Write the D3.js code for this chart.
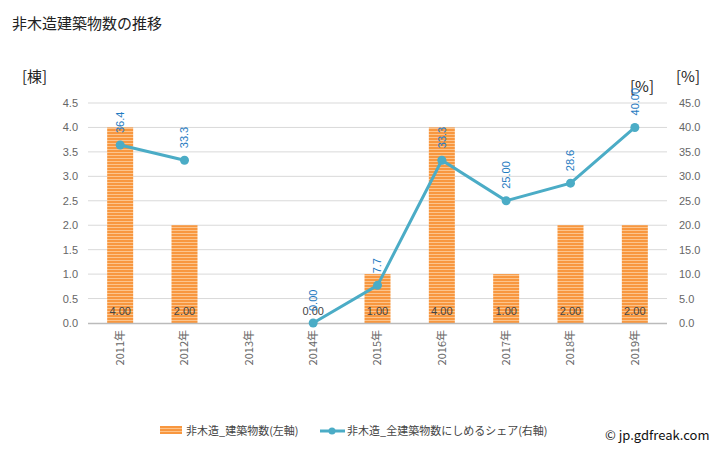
<!DOCTYPE html>
<html><head><meta charset="utf-8">
<script src="https://cdn.jsdelivr.net/npm/d3@7"></script>
<style>body{margin:0;background:#fff;}svg{display:block;font-family:"Noto Sans CJK JP","Noto Sans",sans-serif;}</style>
</head><body><svg id="c" width="728" height="450"></svg>
<script>
const categories = ["2011年","2012年","2013年","2014年","2015年","2016年","2017年","2018年","2019年"];
const barValues = [4, 2, null, 0, 1, 4, 1, 2, 2];
const barLabels = ["4.00","2.00",null,"0.00","1.00","4.00","1.00","2.00","2.00"];
const shareValues = [36.4, 33.3, null, 0, 7.7, 33.3, 25.0, 28.6, 40.0];
const shareLabels = ["36.4","33.3",null,"0.00","7.7","33.3","25.00","28.6","40.00"];
const leftTicks = [0,0.5,1,1.5,2,2.5,3,3.5,4,4.5];
const rightTicks = [0,5,10,15,20,25,30,35,40,45];

const svg = d3.select("#c");
const L = 88, R = 667, T = 103, B = 323;
const x = d3.scaleBand().domain(categories).range([L, R]);
const cx = c => x(c) + x.bandwidth()/2;
const yL = d3.scaleLinear().domain([0, 4.5]).range([B, T]);
const yR = d3.scaleLinear().domain([0, 45]).range([B, T]);

const defs = svg.append("defs");
const pat = defs.append("pattern").attr("id","stripe").attr("patternUnits","userSpaceOnUse").attr("width",4).attr("height",3);
pat.append("rect").attr("width",4).attr("height",3).attr("fill","#f8973f");
pat.append("rect").attr("y",2).attr("width",4).attr("height",1).attr("fill","#fcc48c");

// title
svg.append("text").attr("x",12).attr("y",29).attr("font-size",15).attr("fill","#222").text("非木造建築物数の推移");
svg.append("text").attr("x",22).attr("y",82).attr("font-size",15).attr("fill","#222").text("[棟]");
svg.append("text").attr("x",676).attr("y",82).attr("font-size",15).attr("fill","#222").text("[%]");
svg.append("text").attr("x",630).attr("y",92).attr("font-size",15).attr("fill","#222").text("[%]");

// gridlines
svg.append("g").selectAll("line").data(leftTicks.slice(1)).join("line")
  .attr("x1",L).attr("x2",R).attr("y1",d=>yL(d)).attr("y2",d=>yL(d))
  .attr("stroke","#d9d9d9").attr("stroke-width",1);

// left axis
const gl = svg.append("g").attr("transform",`translate(${L},0)`)
  .call(d3.axisLeft(yL).tickValues(leftTicks).tickFormat(d3.format(".1f")).tickSize(0).tickPadding(10));
gl.select(".domain").remove();
gl.selectAll("text").attr("font-size",11).attr("fill","#666").attr("font-family","'Liberation Sans',sans-serif");

// right axis
const gr = svg.append("g").attr("transform",`translate(${R},0)`)
  .call(d3.axisRight(yR).tickValues(rightTicks).tickFormat(d3.format(".1f")).tickSize(0).tickPadding(12));
gr.select(".domain").remove();
gr.selectAll("text").attr("font-size",11).attr("fill","#666").attr("font-family","'Liberation Sans',sans-serif");

// bars
const bw = 26;
const barData = categories.map((c,i)=>({c, v:barValues[i], l:barLabels[i]})).filter(d=>d.v!==null);
svg.append("g").selectAll("rect").data(barData).join("rect")
  .attr("x",d=>cx(d.c)-bw/2).attr("width",bw)
  .attr("y",d=>yL(d.v)).attr("height",d=>yL(0)-yL(d.v))
  .attr("fill","url(#stripe)");

// bottom axis
svg.append("line").attr("x1",L).attr("x2",R).attr("y1",B+0.5).attr("y2",B+0.5).attr("stroke","#bbb").attr("stroke-width",1.5);
svg.append("g").selectAll("text").data(categories).join("text")
  .attr("transform",d=>`translate(${cx(d)},${B+7}) rotate(-90)`)
  .attr("text-anchor","end").attr("dy","0.35em").attr("font-size",11).attr("fill","#666").text(d=>d);

// bar labels
svg.append("g").selectAll("text").data(barData).join("text")
  .attr("x",d=>cx(d.c)).attr("y",B-8).attr("text-anchor","middle")
  .attr("font-size",11).attr("fill","#444").attr("font-family","'Liberation Sans',sans-serif").text(d=>d.l);

// line
const lineData = categories.map((c,i)=>({c, v:shareValues[i], l:shareLabels[i]}));
const line = d3.line().defined(d=>d.v!==null).x(d=>cx(d.c)).y(d=>yR(d.v));
svg.append("path").datum(lineData).attr("d",line).attr("fill","none").attr("stroke","#4bacc6").attr("stroke-width",3);
const pts = lineData.filter(d=>d.v!==null);
svg.append("g").selectAll("circle").data(pts).join("circle")
  .attr("cx",d=>cx(d.c)).attr("cy",d=>yR(d.v)).attr("r",4.5).attr("fill","#4bacc6");
svg.append("g").selectAll("text").data(pts).join("text")
  .attr("transform",d=>`translate(${cx(d.c)},${yR(d.v)-12}) rotate(-90)`)
  .attr("dy","0.35em").attr("text-anchor","start").attr("font-size",11).attr("fill","#1f7bc1")
  .attr("font-family","'Liberation Sans',sans-serif").text(d=>d.l);

// legend
const lg = svg.append("g");
lg.append("rect").attr("x",160).attr("y",426).attr("width",22).attr("height",8).attr("fill","url(#stripe)");
lg.append("text").attr("x",186).attr("y",435).attr("font-size",11).attr("fill","#444").text("非木造_建築物数(左軸)");
lg.append("line").attr("x1",320).attr("x2",345).attr("y1",431).attr("y2",431).attr("stroke","#4bacc6").attr("stroke-width",3);
lg.append("circle").attr("cx",332).attr("cy",431).attr("r",3.5).attr("fill","#4bacc6");
lg.append("text").attr("x",347).attr("y",435).attr("font-size",11).attr("fill","#444").text("非木造_全建築物数にしめるシェア(右軸)");
svg.append("text").attr("x",605).attr("y",440).attr("font-size",13).attr("fill","#111").text("© jp.gdfreak.com");
</script></body></html>
